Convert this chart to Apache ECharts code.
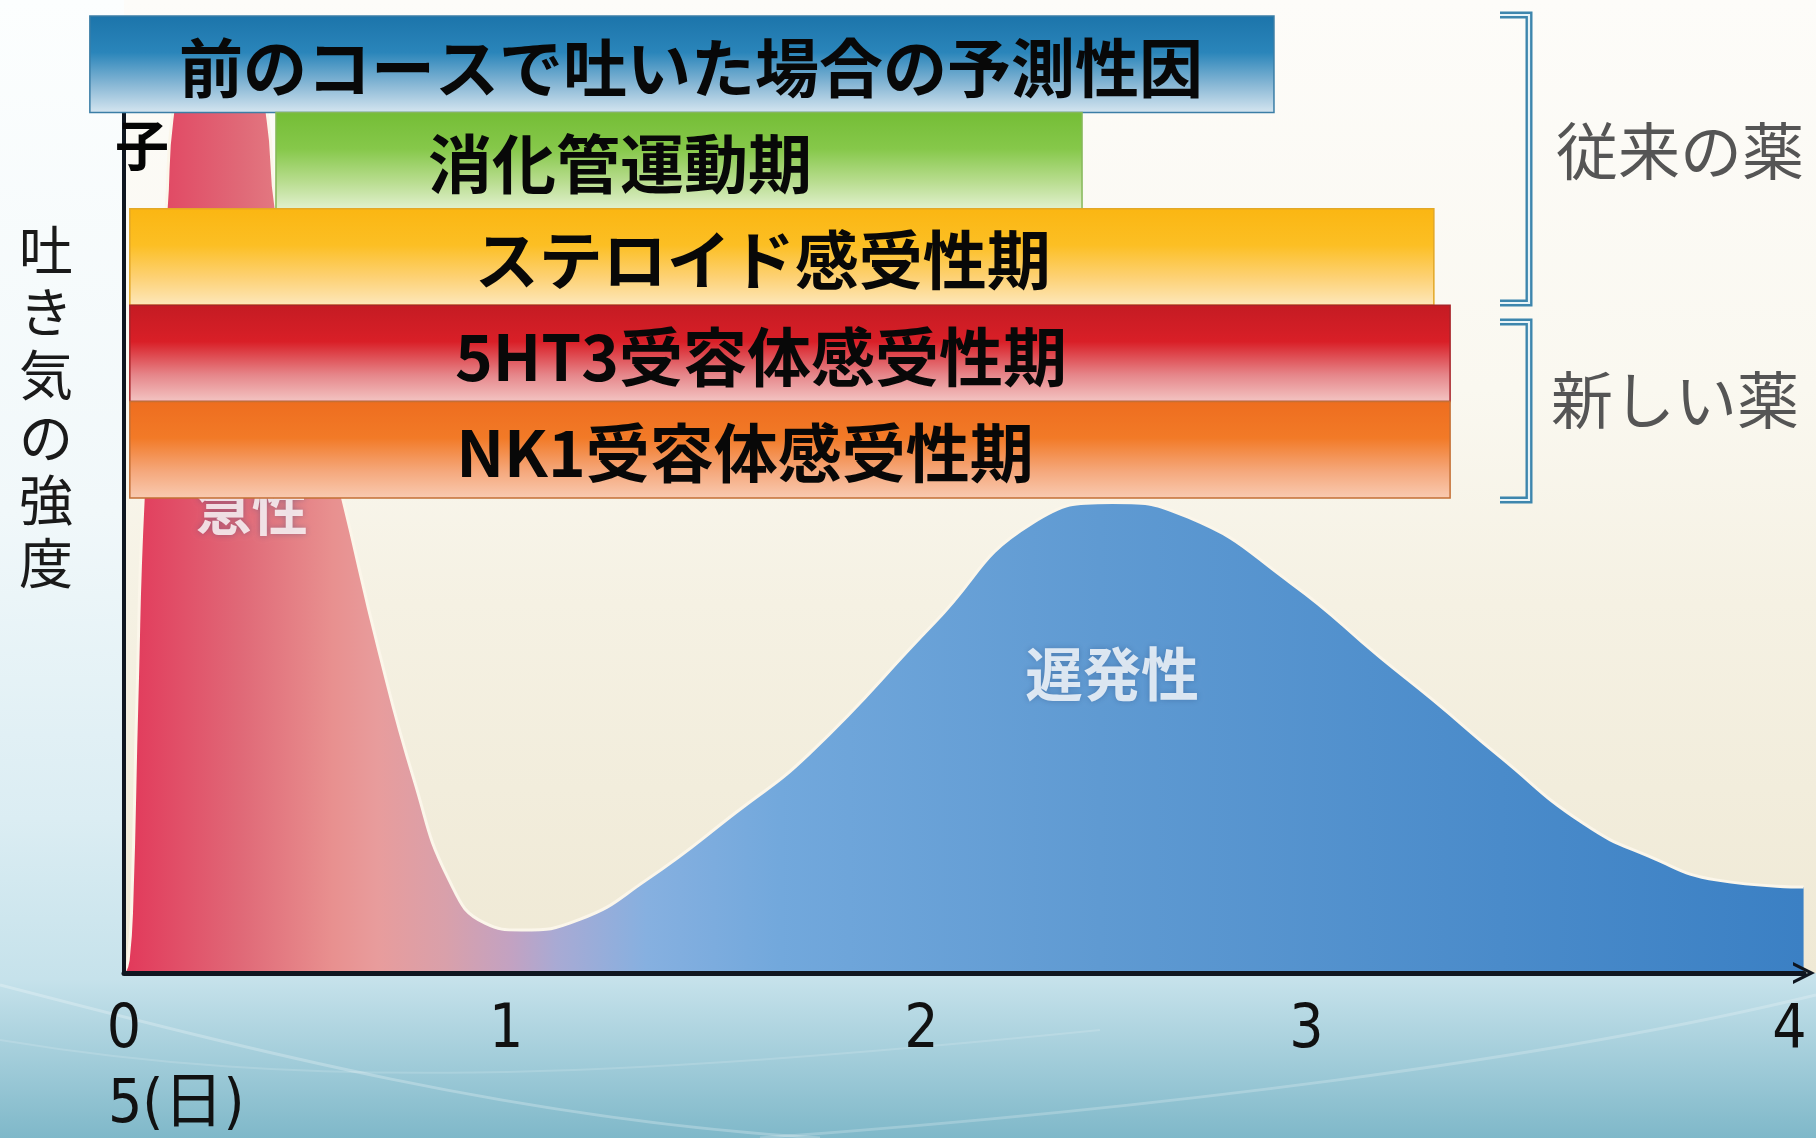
<!DOCTYPE html>
<html>
<head>
<meta charset="utf-8">
<script src="https://cdn.jsdelivr.net/npm/echarts@6/dist/echarts.min.js"></script>
<style>
html, body { margin: 0; padding: 0; background: #ffffff; }
#chart { width: 1816px; height: 1138px; }
</style>
</head>
<body>
<div id="chart"></div>
<script>
// ---------------- data ----------------
const dayTickValues = [0, 0.918, 1.915, 2.840, 4.0];
const dayTickLabels = ['0', '1', '2', '3', '4'];
const xAxisUnit = '5(日)';
const yAxisTitle = '吐き気の強度';

// nausea intensity curve (acute peak -> trough -> delayed peak)
const curveX = [0, 0.010, 0.019, 0.031, 0.046, 0.074, 0.101, 0.115, 0.147, 0.231, 0.315, 0.346, 0.365, 0.423,
                0.526, 0.610, 0.697, 0.781, 0.867, 0.954, 1.093, 1.254, 1.468, 1.648, 1.946, 2.181, 2.374,
                2.556, 2.804, 3.017, 3.145, 3.306, 3.505, 3.666, 3.827, 4.034];
const curveY = [0, 1.5, 8.5, 31.7, 55.0, 74.8, 88.7, 99.2, 105.6, 107.9, 105.6, 99.2, 89.0, 74.8,
                55.0, 37.9, 22.4, 10.8, 5.8, 5.0, 6.2, 10.8, 18.6, 25.6, 40.7, 52.3, 54.7,
                53.0, 45.3, 36.7, 31.7, 25.1, 17.4, 13.5, 10.8, 10.0];

const peakLabels = ['急性', '遅発性'];
const peakLabelX = [0.307, 2.373];
const peakLabelY = [54.0, 34.8];

// sensitivity phases
const phaseNames = ['前のコースで吐いた場合の予測性因', '消化管運動期', 'ステロイド感受性期', '5HT3受容体感受性期', 'NK1受容体感受性期'];
const phaseStart = [-0.082, 0.365, 0.014, 0.014, 0.014];
const phaseEnd   = [2.762, 2.301, 3.146, 3.185, 3.185];
const wrappedTail = '子';

const groupLabels = ['従来の薬', '新しい薬'];

// ---------------- styles ----------------
const phaseStyles = [
  { stops: ['#1c74aa', '#2a85ba', '#8bb9d6', '#d6e6f0'], border: '#3b7ea6', shift: 9 },
  { stops: ['#74bd36', '#86c84a', '#b9dd90', '#e2f1cf'], border: '#86b85a', shift: -59 },
  { stops: ['#fbb612', '#fcbf24', '#fdd277', '#fde8bc'], border: '#e3a826', shift: -19 },
  { stops: ['#c41b23', '#d91f27', '#e6868a', '#f3c6c4'], border: '#a82329', shift: -29 },
  { stops: ['#ee6d1f', '#f27a27', '#f5a87c', '#f9cbb2'], border: '#c46f35', shift: -45 }
];
const stopPos = [0, 0.38, 0.72, 1];

const CJK = '"Noto Sans CJK JP", "Noto Sans CJK SC", sans-serif';
const NARROW = '"Liberation Sans Narrow", "DejaVu Sans Condensed", "Liberation Sans", ' + CJK;

const chart = echarts.init(document.getElementById('chart'), null, { renderer: 'canvas' });
const G = echarts.graphic;

function renderPhase(params, api) {
  const i = params.dataIndex;
  const a = api.coord([api.value(0), api.value(2)]);
  const b = api.coord([api.value(1), api.value(2)]);
  const h = api.size([0, 1])[1];
  const st = phaseStyles[i];
  const x = a[0], y = a[1] - h / 2, w = b[0] - a[0];
  return {
    type: 'group',
    children: [
      {
        type: 'rect',
        shape: { x: x, y: y, width: w, height: h },
        style: {
          fill: new G.LinearGradient(0, 0, 0, 1, st.stops.map((c, k) => ({ offset: stopPos[k], color: c }))),
          stroke: st.border, lineWidth: 1.5
        }
      },
      {
        type: 'text',
        style: {
          text: phaseNames[i], x: x + w / 2 + st.shift, y: a[1] + 3,
          align: 'center', verticalAlign: 'middle',
          fill: '#080808', font: 'bold 64px ' + CJK
        }
      }
    ]
  };
}

const areaGradient = new G.LinearGradient(0, 0, 1, 0, [
  { offset: 0.000, color: '#e2385a' },
  { offset: 0.071, color: '#e06a78' },
  { offset: 0.124, color: '#e8908f' },
  { offset: 0.151, color: '#e89c9c' },
  { offset: 0.191, color: '#d9a0aa' },
  { offset: 0.231, color: '#c2a2c2' },
  { offset: 0.258, color: '#a8aad4' },
  { offset: 0.311, color: '#86b0e0' },
  { offset: 0.391, color: '#72a8dc' },
  { offset: 0.581, color: '#5f9ad2' },
  { offset: 0.820, color: '#4a8bca' },
  { offset: 1.000, color: '#3b80c4' }
]);

function bracket(y1, y2) {
  const pts = [[1500, y1], [1529, y1], [1529, y2], [1500, y2]];
  return [
    { type: 'polyline', shape: { points: pts }, style: { stroke: '#3d86ad', lineWidth: 7, fill: null }, z: 30 },
    { type: 'polyline', shape: { points: pts }, style: { stroke: '#e8f4f8', lineWidth: 2.2, fill: null }, z: 31 }
  ];
}

const option = {
  animation: false,
  backgroundColor: new G.LinearGradient(0, 0, 0, 1, [
    { offset: 0, color: '#fcfefe' },
    { offset: 0.45, color: '#f1f8fa' },
    { offset: 0.72, color: '#dbedf3' },
    { offset: 0.86, color: '#c6e2eb' },
    { offset: 1, color: '#7fb8c9' }
  ]),
  grid: [
    { left: 124, right: 12, top: 113, bottom: 165 },
    { left: 124, right: 12, top: 16, height: 482 }
  ],
  xAxis: [
    {
      gridIndex: 0, type: 'value', min: 0, max: 4.035, z: 10,
      axisLine: {
        show: true,
        symbol: ['none', 'path://M0,10 L5,0 L10,10 L8.4,10 L5,3.2 L1.6,10 Z'],
        symbolSize: [30, 22],
        lineStyle: { color: '#0f1620', width: 5 }
      },
      axisTick: { show: false },
      splitLine: { show: false },
      axisLabel: {
        customValues: dayTickValues,
        formatter: function (v) {
          const i = dayTickValues.findIndex(t => Math.abs(t - v) < 1e-6);
          return i >= 0 ? dayTickLabels[i] : '';
        },
        margin: 28, fontSize: 60, color: '#111', fontFamily: NARROW
      }
    },
    { gridIndex: 1, type: 'value', min: 0, max: 4.035, show: false }
  ],
  yAxis: [
    {
      gridIndex: 0, type: 'value', min: 0, max: 100, z: 10,
      axisLine: { show: true, lineStyle: { color: '#0f1620', width: 4 } },
      axisTick: { show: false }, axisLabel: { show: false }, splitLine: { show: false }
    },
    { gridIndex: 1, type: 'category', data: phaseNames, inverse: true, show: false }
  ],
  series: [
    {
      type: 'line', xAxisIndex: 0, yAxisIndex: 0, z: 2,
      data: curveX.map((x, i) => [x, curveY[i]]),
      smooth: 0.5, symbol: 'none', silent: true,
      lineStyle: { color: '#fbf6ea', width: 3 },
      areaStyle: { color: areaGradient, opacity: 1 }
    },
    {
      type: 'scatter', xAxisIndex: 0, yAxisIndex: 0, z: 3, silent: true,
      symbolSize: 1, itemStyle: { color: 'rgba(0,0,0,0)' },
      data: peakLabels.map((t, i) => ({ value: [peakLabelX[i], peakLabelY[i]], name: t, label: { fontSize: i === 0 ? 56 : 58 } })),
      label: {
        show: true, position: 'inside', formatter: p => p.name,
        color: '#ffffff', fontWeight: 'bold', fontFamily: CJK,
        textShadowColor: 'rgba(40,70,120,0.45)', textShadowBlur: 6
      }
    },
    {
      type: 'custom', xAxisIndex: 1, yAxisIndex: 1, z: 20, silent: true,
      renderItem: renderPhase,
      encode: { x: [0, 1], y: 2 },
      data: phaseNames.map((n, i) => [phaseStart[i], phaseEnd[i], i])
    }
  ],
  graphic: [
    {
      type: 'rect', z: -5, silent: true,
      shape: { x: 124, y: 0, width: 1692, height: 973 },
      style: {
        fill: new G.LinearGradient(0, 0, 0, 1, [
          { offset: 0, color: '#fdfcf9' },
          { offset: 0.4, color: '#faf8f0' },
          { offset: 0.62, color: '#f5f1e3' },
          { offset: 1, color: '#efe9d5' }
        ])
      }
    },
    { type: 'bezierCurve', z: -4, silent: true,
      shape: { x1: 0, y1: 985, cpx1: 250, cpy1: 1050, cpx2: 520, cpy2: 1120, x2: 820, y2: 1138 },
      style: { stroke: 'rgba(255,255,255,0.25)', lineWidth: 3, fill: null } },
    { type: 'bezierCurve', z: -4, silent: true,
      shape: { x1: 760, y1: 1138, cpx1: 1150, cpy1: 1110, cpx2: 1550, cpy2: 1060, x2: 1816, y2: 995 },
      style: { stroke: 'rgba(255,255,255,0.22)', lineWidth: 3, fill: null } },
    { type: 'bezierCurve', z: -4, silent: true,
      shape: { x1: 0, y1: 1040, cpx1: 300, cpy1: 1090, cpx2: 600, cpy2: 1080, x2: 1100, y2: 1030 },
      style: { stroke: 'rgba(255,255,255,0.15)', lineWidth: 2, fill: null } },
    ...bracket(15, 303),
    ...bracket(322, 500),
    { type: 'text', z: 30, silent: true,
      style: { text: groupLabels[0], x: 1556, y: 151, verticalAlign: 'middle', fill: '#555555', font: '62px ' + CJK } },
    { type: 'text', z: 30, silent: true,
      style: { text: groupLabels[1], x: 1551, y: 400, verticalAlign: 'middle', fill: '#555555', font: '62px ' + CJK } },
    { type: 'text', z: 30, silent: true,
      style: { text: yAxisTitle.split('').join('\n'), x: 46, y: 219, align: 'center', verticalAlign: 'top',
               lineHeight: 62.6, fill: '#1a1a1a', font: '54px ' + CJK } },
    { type: 'text', z: 30, silent: true,
      style: { text: xAxisUnit, x: 108, y: 1106, verticalAlign: 'middle', fill: '#111', font: '60px ' + NARROW } },
    { type: 'text', z: 40, silent: true,
      style: { text: wrappedTail, x: 142, y: 145, align: 'center', verticalAlign: 'middle', fill: '#050505', font: 'bold 54px ' + CJK } }
  ]
};

chart.setOption(option);
</script>
</body>
</html>
